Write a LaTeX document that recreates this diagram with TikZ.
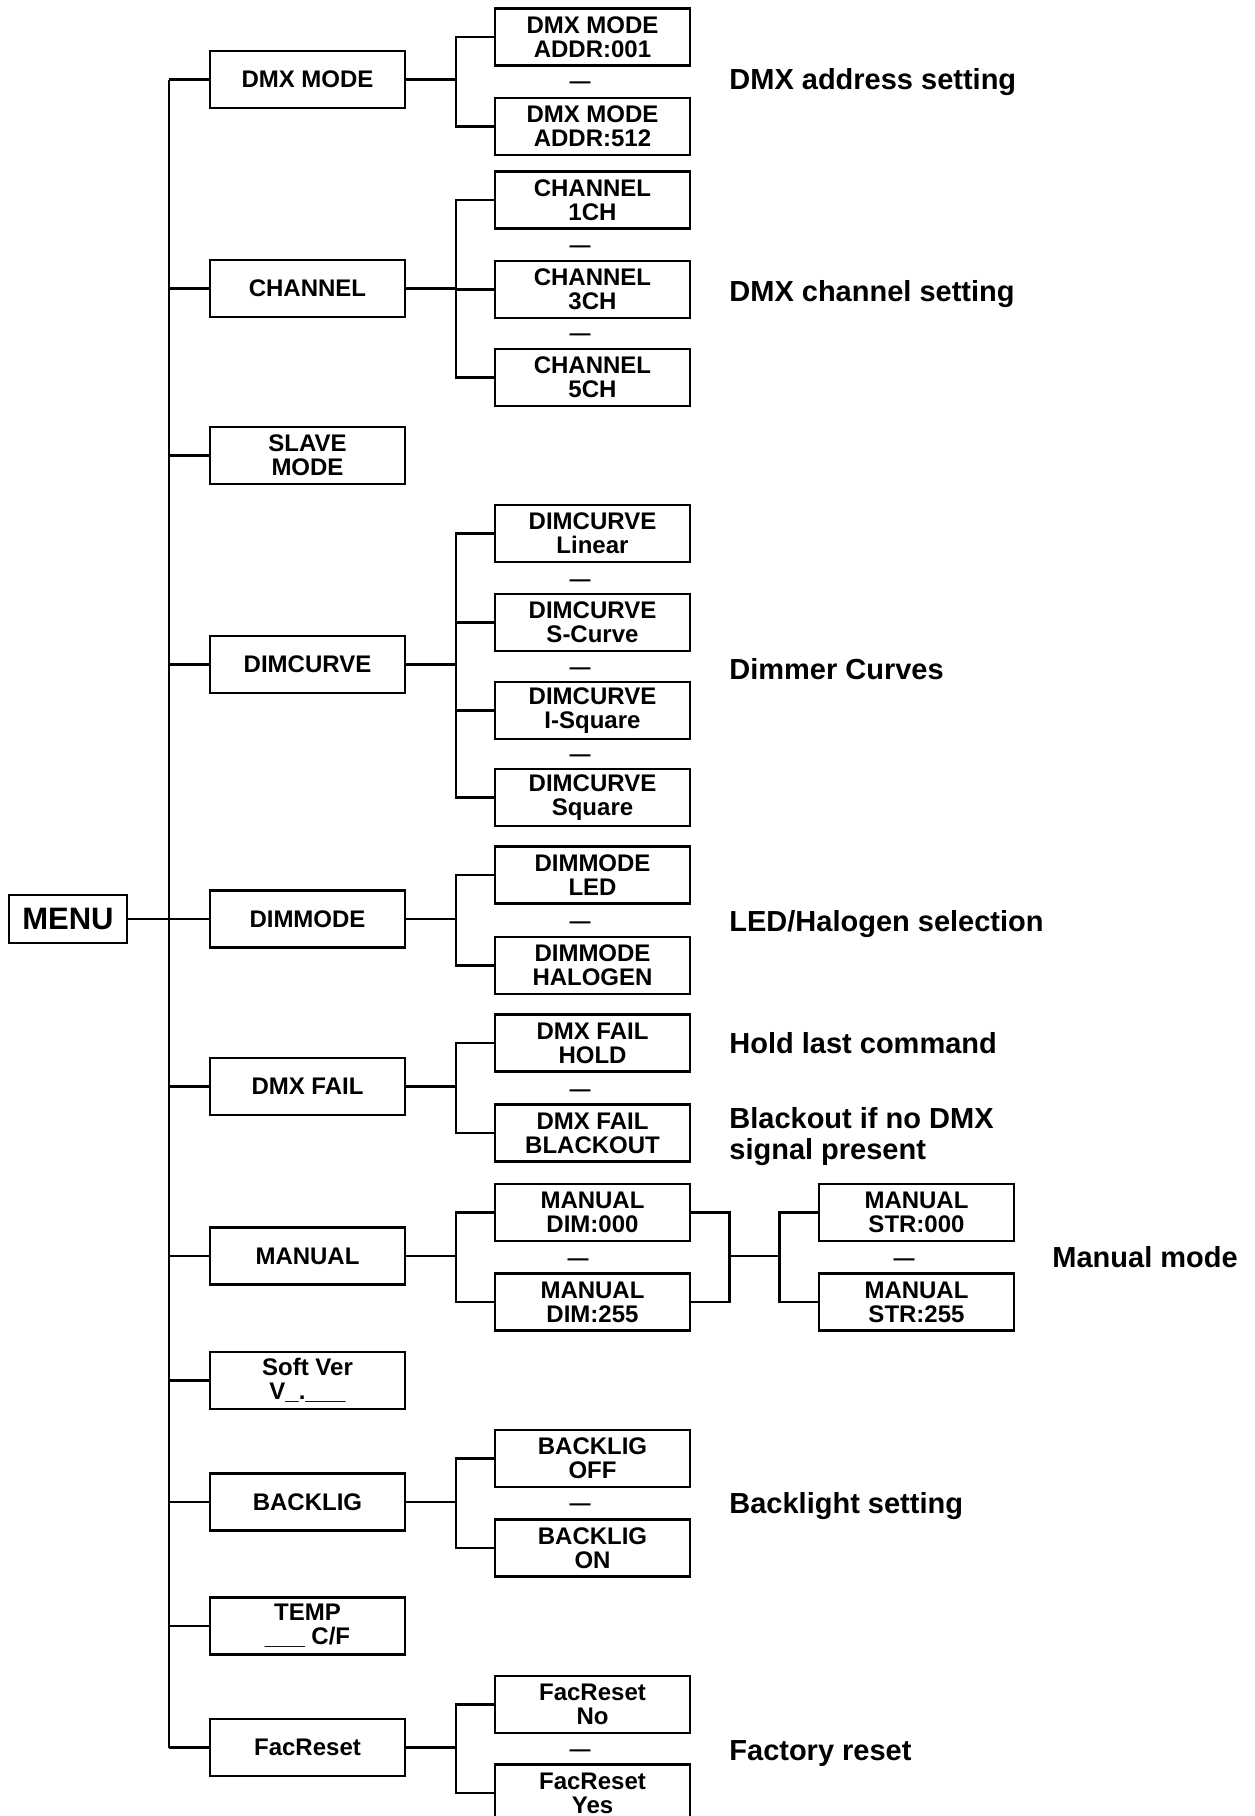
\documentclass[tikz,border=0pt]{standalone}
\usepackage{fontspec}
\setmainfont{Liberation Sans}
\newcommand{\bxfont}{\fontsize{12pt}{12pt}\selectfont\bfseries}
\newcommand{\dsfont}{\fontsize{10.5pt}{12pt}\selectfont\bfseries}
\newcommand{\lbfont}{\fontsize{14.5pt}{15.5pt}\selectfont\bfseries}
\newcommand{\mnfont}{\fontsize{15.5pt}{16pt}\selectfont\bfseries}
\tikzset{
  box/.style={draw, line width=1.25pt, minimum width=97.5pt, minimum height=28.5pt, inner sep=0pt, align=center, font=\bxfont},
  lbl/.style={anchor=base west, inner sep=0pt, font=\lbfont},
  dsh/.style={inner sep=0pt, font=\dsfont, yshift=-2.5pt},
  conn/.style={line width=1.3pt, line join=miter}
}
\begin{document}
\begin{tikzpicture}[x=0.5pt,y=-0.5pt]
\clip (0,0) rectangle (1254,1816);
\coordinate (trunk) at (169,0);
\coordinate (br) at (456,0);
\coordinate (brA) at (729.5,0);
\coordinate (brB) at (779.6,0);

% root
\node[box, minimum width=59pt, minimum height=24pt, font=\mnfont] (menu) at (68,919) {MENU};

% main column
\node[box] (m1) at (307.5,79.5) {DMX MODE};
\node[box] (m2) at (307.5,288.5) {CHANNEL};
\node[box] (m3) at (307.5,455.5) {SLAVE\\MODE};
\node[box] (m4) at (307.5,664.5) {DIMCURVE};
\node[box] (m5) at (307.5,919) {DIMMODE};
\node[box] (m6) at (307.5,1086.5) {DMX FAIL};
\node[box] (m7) at (307.5,1256) {MANUAL};
\node[box] (m8) at (307.5,1380.5) {Soft Ver\\V\_.\_\_\_};
\node[box] (m9) at (307.5,1502) {BACKLIG};
\node[box] (m10) at (307.5,1626) {TEMP\\\_\_\_ C/F};
\node[box] (m11) at (307.5,1747.5) {FacReset};

% sub column
\node[box] (s11) at (592.5,37) {DMX MODE\\ADDR:001};
\node[box] (s12) at (592.5,126.5) {DMX MODE\\ADDR:512};
\node[box] (s21) at (592.5,200) {CHANNEL\\1CH};
\node[box] (s22) at (592.5,289.5) {CHANNEL\\3CH};
\node[box] (s23) at (592.5,377.5) {CHANNEL\\5CH};
\node[box] (s41) at (592.5,533.5) {DIMCURVE\\Linear};
\node[box] (s42) at (592.5,622.5) {DIMCURVE\\S-Curve};
\node[box] (s43) at (592.5,710.5) {DIMCURVE\\I-Square};
\node[box] (s44) at (592.5,797.5) {DIMCURVE\\Square};
\node[box] (s51) at (592.5,875) {DIMMODE\\LED};
\node[box] (s52) at (592.5,965.5) {DIMMODE\\HALOGEN};
\node[box] (s61) at (592.5,1043) {DMX FAIL\\HOLD};
\node[box] (s62) at (592.5,1133) {DMX FAIL\\BLACKOUT};
\node[box] (s71) at (592.5,1212.5) {MANUAL\\DIM:000};
\node[box] (s72) at (592.5,1302) {MANUAL\\DIM:255};
\node[box] (t71) at (916.5,1212.5) {MANUAL\\STR:000};
\node[box] (t72) at (916.5,1302) {MANUAL\\STR:255};
\node[box] (s91) at (592.5,1458.5) {BACKLIG\\OFF};
\node[box] (s92) at (592.5,1548) {BACKLIG\\ON};
\node[box] (s111) at (592.5,1704.5) {FacReset\\No};
\node[box] (s112) at (592.5,1793) {FacReset\\Yes};

% dashes
\node[dsh] (d1) at (580,80) {—};
\node[dsh] (d2) at (580,244) {—};
\node[dsh] (d3) at (580,332) {—};
\node[dsh] (d4) at (580,578) {—};
\node[dsh] (d5) at (580,666) {—};
\node[dsh] (d6) at (580,753) {—};
\node[dsh] (d7) at (580,920) {—};
\node[dsh] (d8) at (580,1088) {—};
\node[dsh] (d9) at (578,1257) {—};
\node[dsh] (d10) at (904,1257) {—};
\node[dsh] (d11) at (580,1502) {—};
\node[dsh] (d12) at (580,1748) {—};

% labels
\node[lbl] (l1) at (729,89) {DMX address setting};
\node[lbl] (l2) at (729,301) {DMX channel setting};
\node[lbl] (l3) at (729,679) {Dimmer Curves};
\node[lbl] (l4) at (729,931) {LED/Halogen selection};
\node[lbl] (l5) at (729,1053) {Hold last command};
\node[lbl] (l6a) at (729,1128) {Blackout if no DMX};
\node[lbl] (l6b) at (729,1159) {signal present};
\node[lbl] (l7) at (1052,1267) {Manual mode};
\node[lbl] (l8) at (729,1513) {Backlight setting};
\node[lbl] (l9) at (729,1760) {Factory reset};

% trunk
\draw[conn] (menu.east) -- (menu.east -| trunk);
\draw[conn] (m1.west -| trunk) -- (m11.west -| trunk);
\foreach \n in {m1,m2,m3,m4,m5,m6,m7,m8,m9,m10,m11}
  \draw[conn] (\n.west) -- (\n.west -| trunk);

% branches
\draw[conn] (m1.east) -- (m1.east -| br);
\draw[conn] (s11.west) -- (s11.west -| br) -- (s12.west -| br) -- (s12.west);

\draw[conn] (m2.east) -- (m2.east -| br);
\draw[conn] (s21.west) -- (s21.west -| br) -- (s23.west -| br) -- (s23.west);
\draw[conn] (s22.west) -- (s22.west -| br);

\draw[conn] (m4.east) -- (m4.east -| br);
\draw[conn] (s41.west) -- (s41.west -| br) -- (s44.west -| br) -- (s44.west);
\draw[conn] (s42.west) -- (s42.west -| br);
\draw[conn] (s43.west) -- (s43.west -| br);

\draw[conn] (m5.east) -- (m5.east -| br);
\draw[conn] (s51.west) -- (s51.west -| br) -- (s52.west -| br) -- (s52.west);

\draw[conn] (m6.east) -- (m6.east -| br);
\draw[conn] (s61.west) -- (s61.west -| br) -- (s62.west -| br) -- (s62.west);

\draw[conn] (m7.east) -- (m7.east -| br);
\draw[conn] (s71.west) -- (s71.west -| br) -- (s72.west -| br) -- (s72.west);
\draw[conn] (s71.east) -- (s71.east -| brA) -- (s72.east -| brA) -- (s72.east);
\draw[conn] (m7.east -| brA) -- (m7.east -| brB);
\draw[conn] (t71.west) -- (t71.west -| brB) -- (t72.west -| brB) -- (t72.west);

\draw[conn] (m9.east) -- (m9.east -| br);
\draw[conn] (s91.west) -- (s91.west -| br) -- (s92.west -| br) -- (s92.west);

\draw[conn] (m11.east) -- (m11.east -| br);
\draw[conn] (s111.west) -- (s111.west -| br) -- (s112.west -| br) -- (s112.west);
\end{tikzpicture}
\end{document}
